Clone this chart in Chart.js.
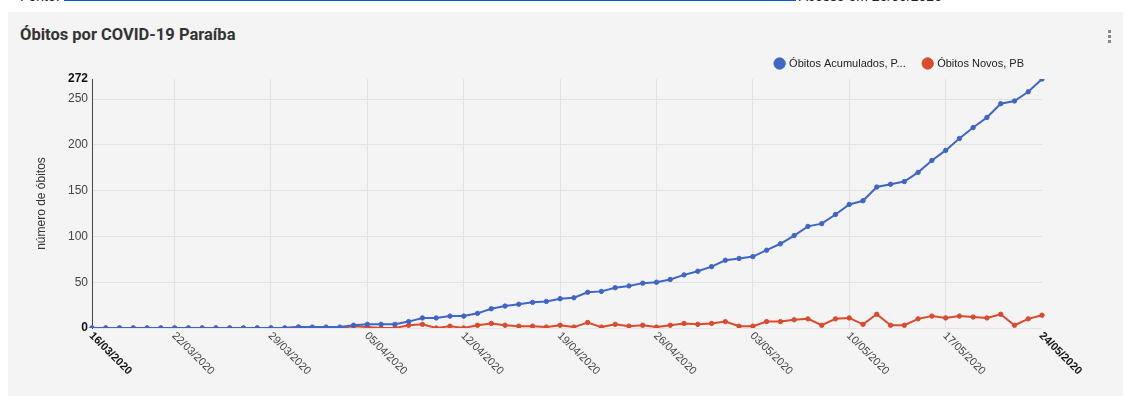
<!DOCTYPE html>
<html>
<head>
<meta charset="utf-8">
<script src="https://cdn.jsdelivr.net/npm/chart.js@4.4.0/dist/chart.umd.min.js"></script>
<style>
  html, body { margin:0; padding:0; background:#ffffff; width:1131px; height:399px; overflow:hidden; position:relative; }
  #source { position:absolute; left:20px; top:-17px; font-family:"Liberation Sans", Arial, sans-serif; font-size:14px; color:#222; white-space:nowrap; }
  #source a { display:inline-block; width:732px; color:#1155cc; border-bottom:2px solid #1155cc; text-decoration:none; overflow:hidden; }
  #card { position:absolute; left:8px; top:12px; width:1115px; height:384px; background:#f4f4f4; }
  #title { position:absolute; left:20px; top:25px; font-family:Roboto, "Liberation Sans", sans-serif; font-weight:bold; font-size:16.5px; color:#333; }
  .dot { position:absolute; left:1108px; width:3px; height:3px; background:#888; }
  canvas { position:absolute; left:0; top:0; }
</style>
</head>
<body>
<div id="source">Fonte: <a>https://superset.plataformatarget.com.br/superset/dashboard/55/</a> Acesso em 25/05/2020</div>
<div id="card"></div>
<div id="title">Óbitos por COVID-19 Paraíba</div>
<div class="dot" style="top:30px"></div>
<div class="dot" style="top:35px"></div>
<div class="dot" style="top:40px"></div>
<canvas id="c" width="1131" height="399"></canvas>
<script>
const categories = [
  "16/03/2020","17/03/2020","18/03/2020","19/03/2020","20/03/2020","21/03/2020","22/03/2020",
  "23/03/2020","24/03/2020","25/03/2020","26/03/2020","27/03/2020","28/03/2020","29/03/2020",
  "30/03/2020","31/03/2020","01/04/2020","02/04/2020","03/04/2020","04/04/2020","05/04/2020",
  "06/04/2020","07/04/2020","08/04/2020","09/04/2020","10/04/2020","11/04/2020","12/04/2020",
  "13/04/2020","14/04/2020","15/04/2020","16/04/2020","17/04/2020","18/04/2020","19/04/2020",
  "20/04/2020","21/04/2020","22/04/2020","23/04/2020","24/04/2020","25/04/2020","26/04/2020",
  "27/04/2020","28/04/2020","29/04/2020","30/04/2020","01/05/2020","02/05/2020","03/05/2020",
  "04/05/2020","05/05/2020","06/05/2020","07/05/2020","08/05/2020","09/05/2020","10/05/2020",
  "11/05/2020","12/05/2020","13/05/2020","14/05/2020","15/05/2020","16/05/2020","17/05/2020",
  "18/05/2020","19/05/2020","20/05/2020","21/05/2020","22/05/2020","23/05/2020","24/05/2020"
];
const obitosAcumulados = [
  0,0,0,0,0,0,0, 0,0,0,0,0,0,0, 0,1,1,1,1,3,4,
  4,4,7,11,11,13,13, 16,21,24,26,28,29,32, 33,39,40,44,46,49,50,
  53,58,62,67,74,76,78, 85,92,101,111,114,124,135,
  139,154,157,160,170,183,194, 207,219,230,245,248,258,272
];
const obitosNovos = [
  0,0,0,0,0,0,0, 0,0,0,0,0,0,0, 0,1,0,0,0,2,1,
  0,0,3,4,0,2,0, 3,5,3,2,2,1,3, 1,6,1,4,2,3,1,
  3,5,4,5,7,2,2, 7,7,9,10,3,10,11,
  4,15,3,3,10,13,11, 13,12,11,15,3,10,14
];
const xTickLabels = ["16/03/2020","22/03/2020","29/03/2020","05/04/2020","12/04/2020","19/04/2020","26/04/2020","03/05/2020","10/05/2020","17/05/2020","24/05/2020"];
const boldXLabels = ["16/03/2020","24/05/2020"];
const yTicks = [0,50,100,150,200,250,272];
const boldYTicks = [0,272];
const gridDates = ["22/03/2020","29/03/2020","05/04/2020","12/04/2020","19/04/2020","26/04/2020","03/05/2020","10/05/2020","17/05/2020"];

const BLUE = '#3f66c6';
const RED = '#da4a2c';
const FONT = '"Liberation Sans", Arial, sans-serif';

const isBoldY = (ctx) => !!(ctx && ctx.tick && boldYTicks.includes(ctx.tick.value));

const xLabelPlugin = {
  id: 'xLabels',
  afterDraw(chart) {
    const ctx = chart.ctx;
    const xs = chart.scales.x;
    const yBase = chart.chartArea.bottom + 6;
    categories.forEach((c, i) => {
      if (!xTickLabels.includes(c)) return;
      const x = xs.getPixelForValue(i);
      const bold = boldXLabels.includes(c);
      ctx.save();
      ctx.translate(x - 1, yBase);
      ctx.rotate(Math.PI / 4);
      ctx.font = (bold ? 'bold ' : '') + '11px ' + FONT;
      ctx.fillStyle = bold ? '#111' : '#444';
      ctx.textAlign = 'left';
      ctx.textBaseline = 'middle';
      ctx.fillText(c, 0, 0);
      ctx.restore();
    });
  }
};

new Chart(document.getElementById('c'), {
  type: 'line',
  data: {
    labels: categories,
    datasets: [
      { label: 'Óbitos Acumulados, PB', data: obitosAcumulados, borderColor: BLUE, backgroundColor: BLUE,
        pointBackgroundColor: BLUE, pointBorderColor: BLUE, pointRadius: 2.2, pointBorderWidth: 1, borderWidth: 2, tension: 0 },
      { label: 'Óbitos Novos, PB', data: obitosNovos, borderColor: RED, backgroundColor: RED,
        pointBackgroundColor: RED, pointBorderColor: RED, pointRadius: 2.2, pointBorderWidth: 1, borderWidth: 2, tension: 0 }
    ]
  },
  options: {
    responsive: false,
    animation: false,
    layout: { padding: { left: 30, right: 89, top: 40, bottom: 0 } },
    plugins: {
      legend: {
        position: 'top',
        align: 'end',
        labels: {
          usePointStyle: true, pointStyle: 'circle', boxWidth: 8, boxHeight: 8, padding: 18,
          color: '#222', font: { family: FONT, size: 11 },
          generateLabels(chart) {
            const items = Chart.defaults.plugins.legend.labels.generateLabels(chart);
            items.forEach(it => { if (it.text.length > 20) it.text = it.text.slice(0, 20) + '...'; });
            return items;
          }
        }
      },
      tooltip: { enabled: false }
    },
    scales: {
      x: {
        type: 'category',
        offset: false,
        ticks: { display: false, autoSkip: false },
        grid: {
          drawTicks: false,
          color: (ctx) => (ctx && ctx.tick && gridDates.includes(categories[ctx.index])) ? '#e1e1e1' : 'rgba(0,0,0,0)'
        },
        border: { display: false },
        afterFit(scale) { scale.height = 71; }
      },
      y: {
        min: 0, max: 272,
        afterBuildTicks(scale) { scale.ticks = yTicks.map(v => ({ value: v })); },
        ticks: {
          padding: 4,
          autoSkip: false,
          color: (ctx) => isBoldY(ctx) ? '#111' : '#444',
          font: (ctx) => ({ family: FONT, size: 12, weight: isBoldY(ctx) ? 'bold' : 'normal' })
        },
        grid: {
          drawTicks: false,
          color: (ctx) => (ctx && ctx.tick && ctx.tick.value === 272) ? 'rgba(0,0,0,0)' : '#e1e1e1'
        },
        border: { display: true, color: '#444', width: 1 },
        title: { display: true, text: 'número de óbitos', color: '#333', font: { family: FONT, size: 12 }, padding: 4 },
        afterFit(scale) { scale.width = 62; }
      }
    }
  },
  plugins: [xLabelPlugin]
});
</script>
</body>
</html>
